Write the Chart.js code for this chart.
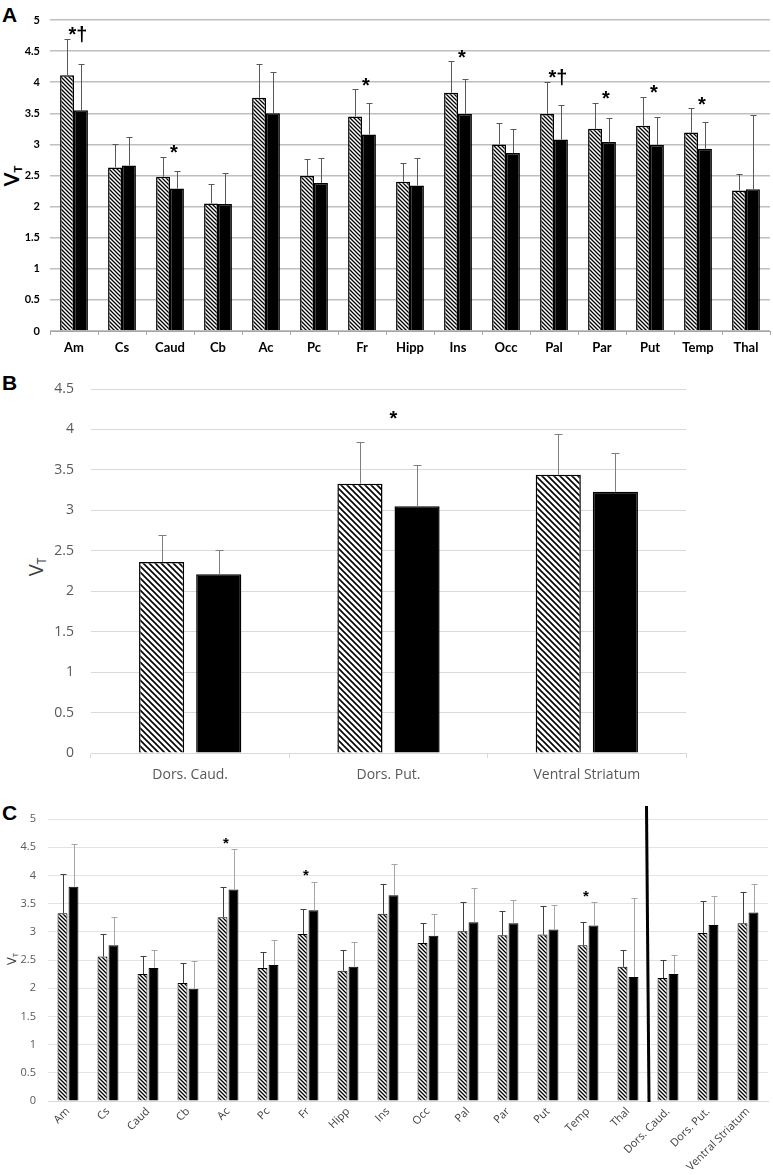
<!DOCTYPE html>
<html>
<head>
<meta charset="utf-8">
<script src="https://cdn.jsdelivr.net/npm/chart.js@4.4.1/dist/chart.umd.min.js"></script>
<style>
  body { margin: 0; background: #fff; width: 773px; height: 1175px; position: relative; overflow: hidden; }
  .panel { position: absolute; left: 0; width: 773px; }
  .letter { position: absolute; font-family: "Liberation Sans", Arial, sans-serif; font-weight: bold; font-size: 21px; color: #000; }
  .ytitle { position: absolute; transform: translate(-50%, -50%) rotate(-90deg); white-space: nowrap; }
  .ytitle sub { font-size: 60%; vertical-align: -0.25em; }
</style>
</head>
<body>

<div class="letter" style="left:2px; top:3px;">A</div>
<div class="letter" style="left:2px; top:371px;">B</div>
<div class="letter" style="left:2px; top:801px;">C</div>

<div class="ytitle" style="left:12px; top:176px; font:bold 20px Lato, sans-serif; color:#000;">V<sub>T</sub></div>
<div class="ytitle" style="left:36px; top:567px; font:20px 'Open Sans', sans-serif; color:#404040;">V<sub>T</sub></div>
<div class="ytitle" style="left:11px; top:959px; font:13px 'Open Sans', sans-serif; color:#404040;">V<sub>T</sub></div>

<div class="panel" style="top:0; height:360px;"><canvas id="chartA"></canvas></div>
<div class="panel" style="top:360px; height:435px;"><canvas id="chartB"></canvas></div>
<div class="panel" style="top:795px; height:380px;"><canvas id="chartC"></canvas></div>

<script>
// ---- Panel A: individual regions ----
const regionsA = ['Am', 'Cs', 'Caud', 'Cb', 'Ac', 'Pc', 'Fr', 'Hipp', 'Ins', 'Occ', 'Pal', 'Par', 'Put', 'Temp', 'Thal'];
const hatchedA = [4.11, 2.63, 2.48, 2.05, 3.75, 2.49, 3.45, 2.40, 3.83, 3.00, 3.49, 3.25, 3.30, 3.19, 2.26];
const hatchedSdA = [0.59, 0.38, 0.32, 0.31, 0.55, 0.28, 0.44, 0.30, 0.51, 0.34, 0.52, 0.42, 0.47, 0.39, 0.26];
const blackA = [3.55, 2.66, 2.29, 2.04, 3.50, 2.38, 3.16, 2.34, 3.49, 2.86, 3.08, 3.04, 2.99, 2.93, 2.28];
const blackSdA = [0.75, 0.46, 0.29, 0.50, 0.67, 0.40, 0.51, 0.44, 0.56, 0.39, 0.56, 0.39, 0.45, 0.43, 1.19];
const marksA = ['*†', '', '*', '', '', '', '*', '', '*', '', '*†', '*', '*', '*', ''];
const ticksA = [0, 0.5, 1, 1.5, 2, 2.5, 3, 3.5, 4, 4.5, 5];

// ---- Panel B: striatal subdivisions ----
const regionsB = ['Dors. Caud.', 'Dors. Put.', 'Ventral Striatum'];
const hatchedB = [2.36, 3.33, 3.44];
const hatchedSdB = [0.33, 0.52, 0.50];
const blackB = [2.21, 3.05, 3.23];
const blackSdB = [0.30, 0.51, 0.48];
const marksB = ['', '*', ''];
const ticksB = [0, 0.5, 1, 1.5, 2, 2.5, 3, 3.5, 4, 4.5];

// ---- Panel C: regions + striatal subdivisions ----
const regionsC = ['Am', 'Cs', 'Caud', 'Cb', 'Ac', 'Pc', 'Fr', 'Hipp', 'Ins', 'Occ', 'Pal', 'Par', 'Put', 'Temp', 'Thal', 'Dors. Caud.', 'Dors. Put.', 'Ventral Striatum'];
const hatchedC = [3.33, 2.56, 2.25, 2.09, 3.26, 2.36, 2.96, 2.31, 3.32, 2.80, 3.01, 2.94, 2.95, 2.76, 2.38, 2.18, 2.98, 3.15];
const hatchedSdC = [0.70, 0.40, 0.32, 0.35, 0.54, 0.28, 0.45, 0.36, 0.53, 0.35, 0.51, 0.42, 0.51, 0.41, 0.29, 0.32, 0.56, 0.55];
const blackC = [3.80, 2.76, 2.36, 1.99, 3.75, 2.41, 3.38, 2.38, 3.65, 2.93, 3.17, 3.15, 3.04, 3.11, 2.20, 2.25, 3.12, 3.34];
const blackSdC = [0.76, 0.50, 0.31, 0.49, 0.71, 0.44, 0.51, 0.44, 0.56, 0.38, 0.60, 0.41, 0.44, 0.41, 1.40, 0.34, 0.52, 0.50];
const marksC = ['', '', '', '', '*', '', '*', '', '', '', '', '', '', '*', '', '', '', ''];
const ticksC = [0, 0.5, 1, 1.5, 2, 2.5, 3, 3.5, 4, 4.5, 5];
const dividerAfterC = 14; // vertical line after 'Thal'

// diagonal "\" hatch fill
function makeHatch(size, lineWidth) {
    const c = document.createElement('canvas');
    c.width = size; c.height = size;
    const g = c.getContext('2d');
    g.fillStyle = '#fff';
    g.fillRect(0, 0, size, size);
    g.strokeStyle = '#000';
    g.lineWidth = lineWidth;
    g.beginPath();
    g.moveTo(-2, -2); g.lineTo(size + 2, size + 2);
    g.moveTo(-2, size - 2); g.lineTo(2, size + 2);
    g.moveTo(size - 2, -2); g.lineTo(size + 2, 2);
    g.stroke();
    return g.createPattern(c, 'repeat');
}

// upward error bars with caps
function errorBarsPlugin(capHalf) {
    return {
        id: 'errorBars',
        afterDatasetsDraw(chart) {
            const ctx = chart.ctx;
            const y = chart.scales.y;
            chart.data.datasets.forEach((ds, i) => {
                const meta = chart.getDatasetMeta(i);
                meta.data.forEach((bar, j) => {
                    const x = Math.round(bar.x) + 0.5;
                    const top = Math.round(y.getPixelForValue(ds.data[j] + ds.errors[j])) + 0.5;
                    ctx.save();
                    ctx.strokeStyle = ds.errorColor;
                    ctx.lineWidth = 1;
                    ctx.beginPath();
                    ctx.moveTo(x, bar.y);
                    ctx.lineTo(x, top);
                    ctx.moveTo(x - capHalf, top);
                    ctx.lineTo(x + capHalf, top);
                    ctx.stroke();
                    ctx.restore();
                });
            });
        }
    };
}

// significance marks above each category
function marksPlugin(marks, font, lift, dx) {
    return {
        id: 'marks',
        afterDatasetsDraw(chart) {
            const ctx = chart.ctx;
            ctx.save();
            ctx.font = font;
            ctx.fillStyle = '#000';
            ctx.textAlign = 'center';
            ctx.textBaseline = 'middle';
            marks.forEach((m, j) => {
                if (!m) return;
                const tops = chart.data.datasets.map(ds => ds.data[j] + ds.errors[j]);
                const x = chart.scales.x.getPixelForValue(j) + dx;
                const yPx = chart.scales.y.getPixelForValue(Math.max(...tops)) - lift;
                ctx.fillText(m, x, yPx);
            });
            ctx.restore();
        }
    };
}

function buildChart(id, cfg) {
    const ctx = document.getElementById(id);
    if (!ctx) return;
    return new Chart(ctx, {
        type: 'bar',
        data: {
            labels: cfg.labels,
            datasets: [{
                data: cfg.hatched,
                errors: cfg.hatchedSd,
                errorColor: cfg.errColors[0],
                backgroundColor: makeHatch(cfg.hatchSize, cfg.hatchWidth),
                borderColor: '#000',
                borderWidth: cfg.border,
                categoryPercentage: cfg.catPct,
                barPercentage: cfg.barPct
            }, {
                data: cfg.black,
                errors: cfg.blackSd,
                errorColor: cfg.errColors[1],
                backgroundColor: '#000',
                borderColor: '#000',
                borderWidth: cfg.border,
                categoryPercentage: cfg.catPct,
                barPercentage: cfg.barPct
            }]
        },
        options: {
            responsive: true,
            maintainAspectRatio: false,
            animation: false,
            layout: { padding: cfg.padding },
            plugins: {
                legend: { display: false },
                tooltip: { enabled: false }
            },
            scales: {
                x: {
                    grid: {
                        drawOnChartArea: false,
                        drawTicks: cfg.xTickLen > 0,
                        tickLength: cfg.xTickLen,
                        color: cfg.axisColor
                    },
                    border: { display: true, color: cfg.axisColor, width: 1 },
                    ticks: {
                        font: cfg.xFont,
                        color: cfg.xColor,
                        padding: cfg.xPad,
                        autoSkip: false,
                        minRotation: cfg.rotation,
                        maxRotation: cfg.rotation
                    },
                    afterFit(scale) { scale.height = cfg.xHeight; }
                },
                y: {
                    min: 0,
                    max: cfg.yTicks[cfg.yTicks.length - 1],
                    afterBuildTicks(scale) { scale.ticks = cfg.yTicks.map(v => ({ value: v })); },
                    grid: { color: cfg.gridColor, lineWidth: cfg.gridWidth, drawTicks: false },
                    border: { display: false },
                    ticks: {
                        font: cfg.yFont,
                        color: cfg.yColor,
                        padding: cfg.yPad,
                        callback: v => String(v)
                    },
                    afterFit(scale) { scale.width = cfg.yWidth; }
                }
            }
        },
        plugins: [errorBarsPlugin(cfg.cap)].concat(cfg.extraPlugins || [])
    });
}

// Panel A
buildChart('chartA', {
    labels: regionsA, hatched: hatchedA, hatchedSd: hatchedSdA, black: blackA, blackSd: blackSdA,
    yTicks: ticksA, errColors: ['#595959', '#595959'],
    hatchSize: 4, hatchWidth: 1.3, border: 1.5, catPct: 0.58, barPct: 1.0,
    padding: { left: 0, right: 3, top: 20, bottom: 0 },
    xTickLen: 4, axisColor: '#a6a6a6', xFont: { family: 'Lato', size: 13, weight: 'bold' }, xColor: '#000', xPad: 5, rotation: 0, xHeight: 29,
    gridColor: '#bfbfbf', gridWidth: 1.5, yFont: { family: 'Lato', size: 11, weight: 'bold' }, yColor: '#000', yPad: 10, yWidth: 50,
    cap: 3,
    extraPlugins: [marksPlugin(marksA, 'bold 20px "Liberation Sans"', 3, 4)]
});

// Panel B
buildChart('chartB', {
    labels: regionsB, hatched: hatchedB, hatchedSd: hatchedSdB, black: blackB, blackSd: blackSdB,
    yTicks: ticksB, errColors: ['#7f7f7f', '#7f7f7f'],
    hatchSize: 6, hatchWidth: 1.6, border: 1.5, catPct: 0.576, barPct: 0.79,
    padding: { left: 0, right: 87, top: 29, bottom: 0 },
    xTickLen: 5, axisColor: '#d9d9d9', xFont: { family: 'Open Sans', size: 14 }, xColor: '#595959', xPad: 9, rotation: 0, xHeight: 42,
    gridColor: '#d9d9d9', gridWidth: 1, yFont: { family: 'Open Sans', size: 14 }, yColor: '#595959', yPad: 17, yWidth: 91,
    cap: 4,
    extraPlugins: [marksPlugin(marksB, 'bold 20px "Liberation Sans"', 22, 5)]
});

// Panel C divider between regions and striatal subdivisions
const dividerPlugin = {
    id: 'divider',
    afterDatasetsDraw(chart) {
        const x = chart.scales.x;
        const area = chart.chartArea;
        const xb = (x.getPixelForValue(dividerAfterC) + x.getPixelForValue(dividerAfterC + 1)) / 2;
        const ctx = chart.ctx;
        ctx.save();
        ctx.strokeStyle = '#000';
        ctx.lineWidth = 3;
        ctx.beginPath();
        ctx.moveTo(xb - 1.5, area.top - 13);
        ctx.lineTo(xb + 1, area.bottom + 1);
        ctx.stroke();
        ctx.restore();
    }
};

// Panel C
buildChart('chartC', {
    labels: regionsC, hatched: hatchedC, hatchedSd: hatchedSdC, black: blackC, blackSd: blackSdC,
    yTicks: ticksC, errColors: ['#404040', '#a6a6a6'],
    hatchSize: 4, hatchWidth: 1.3, border: 1, catPct: 0.55, barPct: 0.9,
    padding: { left: 0, right: 5, top: 24, bottom: 0 },
    xTickLen: 0, axisColor: '#d9d9d9', xFont: { family: 'Open Sans', size: 11 }, xColor: '#404040', xPad: 4, rotation: 45, xHeight: 74,
    gridColor: '#e3e3e3', gridWidth: 1, yFont: { family: 'Open Sans', size: 11 }, yColor: '#595959', yPad: 12, yWidth: 48,
    cap: 3,
    extraPlugins: [marksPlugin(marksC, 'bold 15px "Liberation Sans"', 6, -2), dividerPlugin]
});
</script>
</body>
</html>
